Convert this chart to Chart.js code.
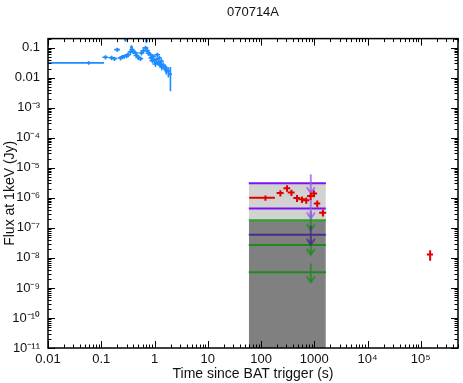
<!DOCTYPE html>
<html>
<head>
<meta charset="utf-8">
<script src="https://cdn.jsdelivr.net/npm/chart.js@4.4.1/dist/chart.umd.min.js"></script>
<style>
  html, body { margin: 0; padding: 0; background: #fff; }
</style>
</head>
<body>
<canvas id="lc" width="463" height="383"></canvas>
<script>
// --- data ---
const grbName = "070714A";

// XRT (blue)
const blueTime = [0.058, 0.12, 0.156, 0.177, 0.20, 0.23, 0.25, 0.27, 0.285, 0.30, 0.32, 0.354, 0.37, 0.38, 0.40,
  0.44, 0.46, 0.50, 0.545, 0.57, 0.62, 0.68, 0.705, 0.736, 0.77, 0.84, 0.875, 0.914, 0.953, 1.0,
  1.04, 1.09, 1.13, 1.18, 1.24, 1.29, 1.35, 1.37, 1.47, 1.6, 1.67, 1.82, 1.99];
const blueFlux = [0.031, 0.048, 0.046, 0.043, 0.086, 0.045, 0.049, 0.051, 0.185, 0.054, 0.058, 0.072, 0.102, 0.086, 0.075,
  0.066, 0.055, 0.047, 0.043, 0.066, 0.079, 0.098, 0.17, 0.079, 0.066, 0.058, 0.045, 0.037, 0.051, 0.037,
  0.0285, 0.040, 0.058, 0.031, 0.045, 0.027, 0.035, 0.0237, 0.0256, 0.021, 0.0184, 0.0161, 0.013];
const blueTimeErr = [0.055, 0.015, 0.02, 0.022, 0.025, 0.028, 0.03, 0.033, 0.015, 0.038, 0.04, 0.042, 0.015, 0.042, 0.05,
  0.053, 0.056, 0.063, 0.067, 0.07, 0.077, 0.084, 0.03, 0.084, 0.09, 0.1, 0.105, 0.11, 0.11, 0.12,
  0.125, 0.13, 0.14, 0.14, 0.14, 0.15, 0.15, 0.15, 0.17, 0.18, 0.2, 0.21, 0.12];
const blueFluxErr = [0.004, 0.008, 0.008, 0.007, 0.014, 0.008, 0.008, 0.008, 0.028, 0.01, 0.01, 0.013, 0.017, 0.014, 0.013,
  0.011, 0.01, 0.008, 0.007, 0.011, 0.014, 0.017, 0.028, 0.014, 0.011, 0.01, 0.008, 0.007, 0.008, 0.007,
  0.006, 0.007, 0.01, 0.006, 0.008, 0.006, 0.007, 0.006, 0.006, 0.006, 0.006, 0.006, 0.0095];

// optical / late points (red)
const redTime = [121, 231, 308, 372, 474, 589, 708, 855, 989, 1137, 1455, 150000];
const redFlux = [1.0e-6, 1.45e-6, 2.1e-6, 1.5e-6, 9.8e-7, 8.9e-7, 8.3e-7, 1.15e-6, 1.4e-6, 6.5e-7, 3.2e-7, 1.3e-8];
const redTimeErr = [61, 35, 45, 55, 70, 85, 100, 120, 140, 160, 220, 20000];
const redFluxErr = [0.2e-6, 0.35e-6, 0.5e-6, 0.35e-6, 0.25e-6, 0.22e-6, 0.2e-6, 0.3e-6, 0.35e-6, 0.16e-6, 0.08e-6, 0.5e-8];

// upper limits and shaded window
const limitTime = [59, 1650];
const arrowTime = 860;
const purpleLimits = [3.05e-6, 4.4e-7, 5.9e-8];
const greenLimits = [1.78e-7, 2.7e-8, 3.3e-9];
const regionTop = 3.05e-6;
const regionMid = 1.78e-7;

// axes
const xTickValues = [0.01, 0.1, 1, 10, 100, 1000, 1e4, 1e5];
const xTickLabels = ["0.01", "0.1", "1", "10", "100", "1000", "10⁴", "10⁵"];
const yTickValues = [1e-11, 1e-10, 1e-9, 1e-8, 1e-7, 1e-6, 1e-5, 1e-4, 1e-3, 0.01, 0.1];
const yTickLabels = ["10⁻¹¹", "10⁻¹⁰", "10⁻⁹", "10⁻⁸", "10⁻⁷", "10⁻⁶", "10⁻⁵", "10⁻⁴", "10⁻³", "0.01", "0.1"];

const FONT = "'Liberation Sans', Arial, Helvetica, sans-serif";

function toPoints(xs, ys) {
  return xs.map((x, i) => ({ x: x, y: ys[i] }));
}

// little down arrow used as point style for the limits
function makeArrow(color) {
  const c = document.createElement("canvas");
  c.width = 12;
  c.height = 24;
  const g = c.getContext("2d");
  g.strokeStyle = color;
  g.lineWidth = 1.5;
  g.beginPath();
  g.moveTo(6, 3);
  g.lineTo(6, 22);
  g.moveTo(2, 16);
  g.lineTo(6, 22);
  g.lineTo(10, 16);
  g.stroke();
  return c;
}

const datasets = [];

// data with error bars
datasets.push({
  label: "XRT",
  data: toPoints(blueTime, blueFlux),
  errX: blueTimeErr,
  errY: blueFluxErr,
  barColor: "#1e8cff",
  barWidth: 1.6,
  showLine: false,
  pointRadius: 1.4,
  pointBackgroundColor: "#1e8cff",
  pointBorderWidth: 0,
  order: 1,
});
datasets.push({
  label: "late",
  data: toPoints(redTime, redFlux),
  errX: redTimeErr,
  errY: redFluxErr,
  barColor: "#e00000",
  barWidth: 2,
  showLine: false,
  pointRadius: 0,
  order: 1,
});

// limit lines + arrows
purpleLimits.forEach((v) => {
  const col = v > regionMid ? "#7a14ee" : "#4d2a92";
  datasets.push({
    data: toPoints(limitTime, [v, v]),
    borderColor: col,
    borderWidth: 2,
    pointRadius: 0,
    fill: false,
    order: 5,
  });
  datasets.push({
    data: [{ x: arrowTime, y: v }],
    showLine: false,
    pointStyle: makeArrow(v > regionMid ? "#9a5cf0" : "#4d2a92"),
    order: 4,
  });
});
greenLimits.forEach((v) => {
  datasets.push({
    data: toPoints(limitTime, [v, v]),
    borderColor: v >= regionMid ? "#22a822" : "#1e8a1e",
    borderWidth: 2,
    pointRadius: 0,
    fill: false,
    order: 5,
  });
  datasets.push({
    data: [{ x: arrowTime, y: v }],
    showLine: false,
    pointStyle: makeArrow("#1e8a1e"),
    order: 4,
  });
});

// shaded window: light part between the two limit levels, dark part below
datasets.push({
  data: toPoints(limitTime, [regionTop, regionTop]),
  borderWidth: 0,
  pointRadius: 0,
  backgroundColor: "#d2d2d2",
  fill: { value: regionMid },
  order: 10,
});
datasets.push({
  data: toPoints(limitTime, [regionMid, regionMid]),
  borderWidth: 0,
  pointRadius: 0,
  backgroundColor: "#808080",
  fill: "start",
  order: 10,
});

// error bars
const errorBars = {
  id: "errorBars",
  afterDatasetsDraw(chart) {
    const ctx = chart.ctx;
    const xs = chart.scales.x;
    const ys = chart.scales.y;
    const a = chart.chartArea;
    ctx.save();
    ctx.beginPath();
    ctx.rect(a.left, a.top, a.right - a.left, a.bottom - a.top);
    ctx.clip();
    chart.data.datasets.forEach((ds) => {
      if (!ds.errX) return;
      ctx.strokeStyle = ds.barColor;
      ctx.lineWidth = ds.barWidth;
      ds.data.forEach((p, i) => {
        const px = xs.getPixelForValue(p.x);
        const py = ys.getPixelForValue(p.y);
        const x1 = xs.getPixelForValue(Math.max(p.x - ds.errX[i], 1e-3));
        const x2 = xs.getPixelForValue(p.x + ds.errX[i]);
        const y1 = ys.getPixelForValue(Math.max(p.y - ds.errY[i], 1e-13));
        const y2 = ys.getPixelForValue(p.y + ds.errY[i]);
        ctx.beginPath();
        ctx.moveTo(x1, py);
        ctx.lineTo(x2, py);
        ctx.moveTo(px, y1);
        ctx.lineTo(px, y2);
        ctx.stroke();
      });
    });
    ctx.restore();
  },
};

// box with inward ticks on all four sides
const frame = {
  id: "frame",
  afterDraw(chart) {
    const ctx = chart.ctx;
    const xs = chart.scales.x;
    const ys = chart.scales.y;
    const a = chart.chartArea;
    ctx.save();
    ctx.strokeStyle = "#000";
    ctx.lineWidth = 1.5;
    ctx.strokeRect(a.left, a.top, a.right - a.left, a.bottom - a.top);
    ctx.lineWidth = 1;
    ctx.beginPath();
    for (let e = -3; e <= 6; e++) {
      for (let m = 1; m <= 9; m++) {
        const v = m * Math.pow(10, e);
        if (v < xs.min || v > xs.max) continue;
        const px = Math.round(xs.getPixelForValue(v)) + 0.5;
        const len = m === 1 ? 7 : 3.5;
        ctx.moveTo(px, a.bottom);
        ctx.lineTo(px, a.bottom - len);
        ctx.moveTo(px, a.top);
        ctx.lineTo(px, a.top + len);
      }
    }
    for (let e = -12; e <= 0; e++) {
      for (let m = 1; m <= 9; m++) {
        const v = m * Math.pow(10, e);
        if (v < ys.min || v > ys.max) continue;
        const py = Math.round(ys.getPixelForValue(v)) + 0.5;
        const len = m === 1 ? 7 : 3.5;
        ctx.moveTo(a.left, py);
        ctx.lineTo(a.left + len, py);
        ctx.moveTo(a.right, py);
        ctx.lineTo(a.right - len, py);
      }
    }
    ctx.stroke();
    ctx.restore();
  },
};

const chart = new Chart(document.getElementById("lc"), {
  type: "line",
  data: { datasets: datasets },
  options: {
    responsive: false,
    animation: false,
    events: [],
    layout: { padding: { left: 0, right: 3, top: 0, bottom: 0 } },
    plugins: {
      legend: { display: false },
      tooltip: { enabled: false },
      title: {
        display: true,
        text: grbName,
        fullSize: false,
        color: "#111",
        font: { family: FONT, size: 13, weight: "normal" },
        padding: { top: 5, bottom: 18 },
      },
    },
    scales: {
      x: {
        type: "logarithmic",
        min: 0.01,
        max: 5e5,
        grid: { display: false, drawTicks: false },
        border: { display: false },
        afterBuildTicks: (s) => {
          s.ticks = xTickValues.map((v) => ({ value: v }));
        },
        ticks: {
          autoSkip: false,
          maxRotation: 0,
          padding: 4,
          color: "#111",
          font: { family: FONT, size: 13 },
          callback: (v, i) => xTickLabels[i],
        },
        title: {
          display: true,
          text: "Time since BAT trigger (s)",
          color: "#111",
          font: { family: FONT, size: 14 },
          padding: { top: 0, bottom: 0 },
        },
        afterFit: (s) => {
          s.height = 35;
        },
      },
      y: {
        type: "logarithmic",
        min: 1e-11,
        max: 0.2,
        grid: { display: false, drawTicks: false },
        border: { display: false },
        afterBuildTicks: (s) => {
          s.ticks = yTickValues.map((v) => ({ value: v }));
        },
        ticks: {
          autoSkip: false,
          padding: 8,
          color: "#111",
          font: { family: FONT, size: 13 },
          callback: (v, i) => yTickLabels[i],
        },
        title: {
          display: true,
          text: "Flux at 1keV (Jy)",
          color: "#111",
          font: { family: FONT, size: 14 },
          padding: { top: 2, bottom: 0 },
        },
        afterFit: (s) => {
          s.width = 48;
        },
      },
    },
  },
  plugins: [errorBars, frame],
});
</script>
</body>
</html>
